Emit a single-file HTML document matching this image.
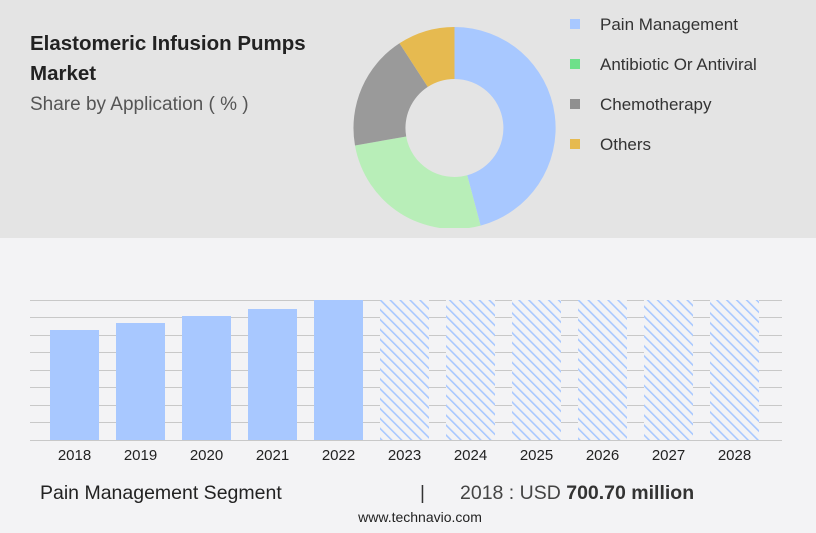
<!DOCTYPE html>
<html><head><meta charset="utf-8"><style>
body{margin:0;width:816px;height:528px;overflow:hidden;background:#f3f3f5;font-family:"Liberation Sans",sans-serif}
</style></head><body>
<svg width="816" height="528" viewBox="0 0 816 528" xmlns="http://www.w3.org/2000/svg" font-family="Liberation Sans, sans-serif">
<defs>
<pattern id="h" patternUnits="userSpaceOnUse" width="7" height="7" patternTransform="rotate(-45)">
<rect width="7" height="7" fill="#f3f3f5"/><rect x="0" y="0" width="1.6" height="7" fill="#a8c8ff"/>
</pattern>
<clipPath id="c"><rect x="0" y="0" width="816" height="228"/></clipPath>
</defs>
<rect width="816" height="238" fill="#e4e4e4"/>
<text x="30" y="50" font-size="20.5" font-weight="bold" fill="#222">Elastomeric Infusion Pumps</text>
<text x="30" y="80" font-size="20.5" font-weight="bold" fill="#222">Market</text>
<text x="30" y="110" font-size="19" fill="#555">Share by Application ( % )</text>
<g clip-path="url(#c)">
<path d="M454.5,27 A101,101 0 0 1 480.6,225.6 L467.2,175.3 A49,49 0 0 0 454.5,79 Z" fill="#a8c8ff"/>
<path d="M480.6,225.6 A101,101 0 0 1 355,145.5 L406.2,136.5 A49,49 0 0 0 467.2,175.3 Z" fill="#b8eeb8"/>
<path d="M355,145.5 A101,101 0 0 1 399.5,43.3 L427.8,86.9 A49,49 0 0 0 406.2,136.5 Z" fill="#9a9a9a"/>
<path d="M399.5,43.3 A101,101 0 0 1 454.5,27 L454.5,79 A49,49 0 0 0 427.8,86.9 Z" fill="#e6ba50"/>
</g>
<g font-size="17" fill="#333">
<rect x="570" y="19" width="10" height="10" fill="#a8c8ff"/><text x="600" y="30">Pain Management</text>
<rect x="570" y="59" width="10" height="10" fill="#6ee08a"/><text x="600" y="70">Antibiotic Or Antiviral</text>
<rect x="570" y="99" width="10" height="10" fill="#909090"/><text x="600" y="110">Chemotherapy</text>
<rect x="570" y="139" width="10" height="10" fill="#e6ba50"/><text x="600" y="150">Others</text>
</g>
<g stroke="#c8c8c8" stroke-width="1">
<line x1="30" x2="782" y1="300.5" y2="300.5"/><line x1="30" x2="782" y1="317.5" y2="317.5"/>
<line x1="30" x2="782" y1="335.5" y2="335.5"/><line x1="30" x2="782" y1="352.5" y2="352.5"/>
<line x1="30" x2="782" y1="370.5" y2="370.5"/><line x1="30" x2="782" y1="387.5" y2="387.5"/>
<line x1="30" x2="782" y1="405.5" y2="405.5"/><line x1="30" x2="782" y1="422.5" y2="422.5"/>
<line x1="30" x2="782" y1="440.5" y2="440.5"/>
</g>
<g fill="#a8c8ff">
<rect x="50" y="330" width="49" height="110"/>
<rect x="116" y="323" width="49" height="117"/>
<rect x="182" y="316" width="49" height="124"/>
<rect x="248" y="309" width="49" height="131"/>
<rect x="314" y="300" width="49" height="140"/>
</g>
<g fill="url(#h)">
<rect x="380" y="300" width="49" height="140"/><rect x="446" y="300" width="49" height="140"/>
<rect x="512" y="300" width="49" height="140"/><rect x="578" y="300" width="49" height="140"/>
<rect x="644" y="300" width="49" height="140"/><rect x="710" y="300" width="49" height="140"/>
</g>
<g font-size="15" fill="#222" text-anchor="middle">
<text x="74.5" y="460">2018</text><text x="140.5" y="460">2019</text><text x="206.5" y="460">2020</text>
<text x="272.5" y="460">2021</text><text x="338.5" y="460">2022</text><text x="404.5" y="460">2023</text>
<text x="470.5" y="460">2024</text><text x="536.5" y="460">2025</text><text x="602.5" y="460">2026</text>
<text x="668.5" y="460">2027</text><text x="734.5" y="460">2028</text>
</g>
<text x="40" y="499" font-size="19.5" fill="#222">Pain Management Segment</text>
<text x="420" y="499" font-size="19" fill="#333">|</text>
<text x="460" y="499" font-size="19.5" fill="#444">2018 : USD <tspan font-weight="bold" fill="#333">700.70 million</tspan></text>
<text x="420" y="522" font-size="14" fill="#222" text-anchor="middle">www.technavio.com</text>
</svg>
</body></html>
